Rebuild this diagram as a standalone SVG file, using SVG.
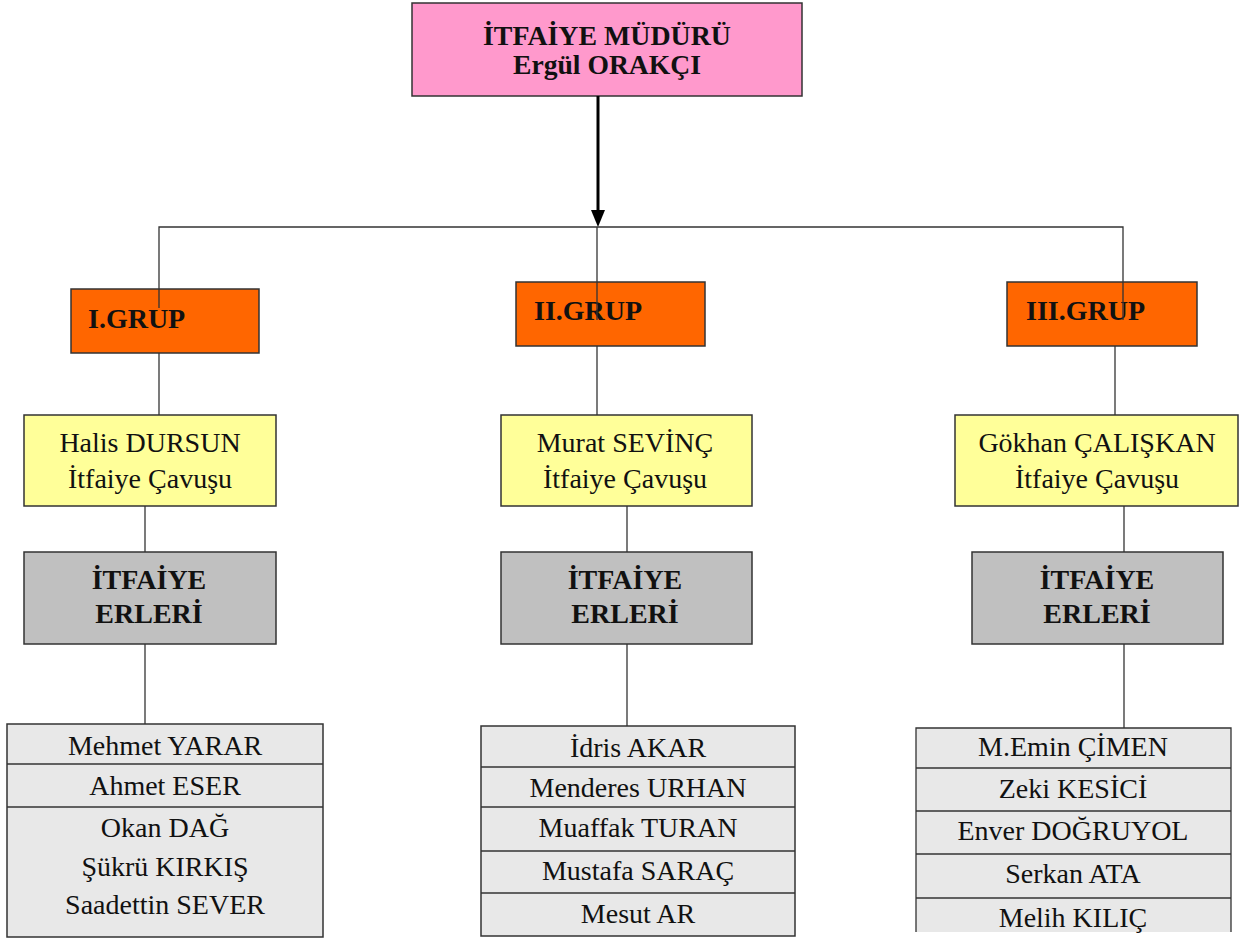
<svg xmlns="http://www.w3.org/2000/svg" width="1239" height="943" viewBox="0 0 1239 943">
<style>
  text { font-family: "Liberation Serif", "Times New Roman", serif; fill: #111; font-size: 28px; }
  .b { font-weight: bold; }
  .c { text-anchor: middle; }
  .box { stroke: #333; stroke-width: 1.5; }
  .pink { fill: #FF99CC; }
  .orange { fill: #FF6600; }
  .yellow { fill: #FFFF99; }
  .gray { fill: #C0C0C0; }
  .list { fill: #E8E8E8; }
  .ln { stroke: #333; stroke-width: 1.3; fill: none; }
  .div { stroke: #333; stroke-width: 1.3; }
</style>

<g id="mudur">
  <rect class="box pink" x="412" y="3" width="390" height="93"/>
  <text class="b c" x="607" y="45" font-size="26" textLength="248" lengthAdjust="spacingAndGlyphs">İTFAİYE MÜDÜRÜ</text>
  <text class="b c" x="607" y="74" font-size="26" textLength="188" lengthAdjust="spacingAndGlyphs">Ergül ORAKÇI</text>
</g>

<g id="grup1">
  <rect class="box orange" x="71" y="289" width="188" height="64"/>
  <text class="b" x="88" y="328">I.GRUP</text>
</g>
<g id="grup2">
  <rect class="box orange" x="516" y="282" width="189" height="64"/>
  <text class="b" x="534" y="320">II.GRUP</text>
</g>
<g id="grup3">
  <rect class="box orange" x="1007" y="282" width="190" height="64"/>
  <text class="b" x="1026" y="320">III.GRUP</text>
</g>

<g id="cavus1">
  <rect class="box yellow" x="24" y="415" width="252" height="91"/>
  <text class="c" x="150" y="452">Halis DURSUN</text>
  <text class="c" x="150" y="488">İtfaiye Çavuşu</text>
</g>
<g id="cavus2">
  <rect class="box yellow" x="501" y="415" width="251" height="91"/>
  <text class="c" x="625" y="452">Murat SEVİNÇ</text>
  <text class="c" x="625" y="488">İtfaiye Çavuşu</text>
</g>
<g id="cavus3">
  <rect class="box yellow" x="955" y="415" width="283" height="91"/>
  <text class="c" x="1097" y="452">Gökhan ÇALIŞKAN</text>
  <text class="c" x="1097" y="488">İtfaiye Çavuşu</text>
</g>

<g id="erler1">
  <rect class="box gray" x="24" y="552" width="252" height="92"/>
  <text class="b c" x="149" y="589">İTFAİYE</text>
  <text class="b c" x="149" y="623">ERLERİ</text>
</g>
<g id="erler2">
  <rect class="box gray" x="501" y="552" width="251" height="92"/>
  <text class="b c" x="625" y="589">İTFAİYE</text>
  <text class="b c" x="625" y="623">ERLERİ</text>
</g>
<g id="erler3">
  <rect class="box gray" x="972" y="552" width="251" height="92"/>
  <text class="b c" x="1097" y="589">İTFAİYE</text>
  <text class="b c" x="1097" y="623">ERLERİ</text>
</g>

<g id="liste1">
  <rect class="box list" x="7" y="724" width="316" height="213"/>
  <line class="div" x1="7" y1="764" x2="323" y2="764"/>
  <line class="div" x1="7" y1="807" x2="323" y2="807"/>
  <text class="c" x="165" y="755">Mehmet YARAR</text>
  <text class="c" x="165" y="795">Ahmet ESER</text>
  <text class="c" x="165" y="837">Okan DAĞ</text>
  <text class="c" x="165" y="876">Şükrü KIRKIŞ</text>
  <text class="c" x="165" y="914">Saadettin SEVER</text>
</g>

<g id="liste2">
  <rect class="box list" x="481" y="726" width="314" height="210"/>
  <line class="div" x1="481" y1="767" x2="795" y2="767"/>
  <line class="div" x1="481" y1="807" x2="795" y2="807"/>
  <line class="div" x1="481" y1="851" x2="795" y2="851"/>
  <line class="div" x1="481" y1="893" x2="795" y2="893"/>
  <text class="c" x="638" y="757">İdris AKAR</text>
  <text class="c" x="638" y="797">Menderes URHAN</text>
  <text class="c" x="638" y="837">Muaffak TURAN</text>
  <text class="c" x="638" y="880">Mustafa SARAÇ</text>
  <text class="c" x="638" y="923">Mesut AR</text>
</g>

<g id="liste3">
  <rect class="list" x="916" y="728" width="315" height="204"/>
  <path class="ln" d="M916,932 L916,728 L1231,728 L1231,932" stroke-width="1.5"/>
  <line class="div" x1="916" y1="768" x2="1231" y2="768"/>
  <line class="div" x1="916" y1="811" x2="1231" y2="811"/>
  <line class="div" x1="916" y1="854" x2="1231" y2="854"/>
  <line class="div" x1="916" y1="898" x2="1231" y2="898"/>
  <text class="c" x="1073" y="756">M.Emin ÇİMEN</text>
  <text class="c" x="1073" y="798">Zeki KESİCİ</text>
  <text class="c" x="1073" y="840">Enver DOĞRUYOL</text>
  <text class="c" x="1073" y="883">Serkan ATA</text>
  <text class="c" x="1073" y="927">Melih KILIÇ</text>
</g>

<g id="connectors">
  <line x1="598" y1="96" x2="598" y2="211" stroke="#000" stroke-width="3"/>
  <polygon points="591,210 605,210 598,227" fill="#000"/>
  <polyline class="ln" points="159,308 159,227 1123,227 1123,320"/>
  <line class="ln" x1="597" y1="227" x2="597" y2="320"/>
  <line class="ln" x1="159" y1="353" x2="159" y2="415"/>
  <line class="ln" x1="597" y1="346" x2="597" y2="415"/>
  <line class="ln" x1="1115" y1="346" x2="1115" y2="415"/>
  <line class="ln" x1="145" y1="506" x2="145" y2="552"/>
  <line class="ln" x1="627" y1="506" x2="627" y2="552"/>
  <line class="ln" x1="1124" y1="506" x2="1124" y2="552"/>
  <line class="ln" x1="145" y1="644" x2="145" y2="724"/>
  <line class="ln" x1="627" y1="644" x2="627" y2="726"/>
  <line class="ln" x1="1124" y1="644" x2="1124" y2="728"/>
</g>
</svg>
